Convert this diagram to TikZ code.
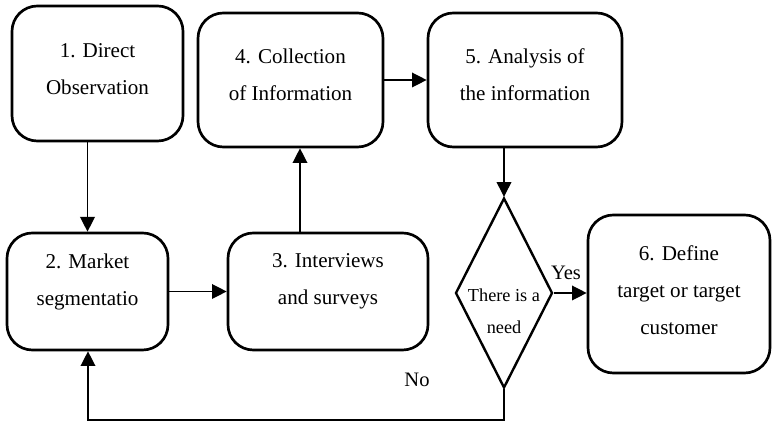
\documentclass[tikz,border=0pt]{standalone}
\usepackage{fontspec}
\setmainfont{Liberation Serif}
\usetikzlibrary{shapes.geometric,arrows.meta}
\tikzset{
  box/.style={draw, line width=2pt, rounded corners=19pt, inner sep=0pt},
  boxtext/.style={align=center, font=\fontsize{15.8}{27.75}\selectfont},
  dtext/.style={align=center, font=\fontsize{13.7}{24}\selectfont},
  lbl/.style={font=\fontsize{15.4}{18}\selectfont},
  conn/.style={line width=1pt},
  arr/.style={line width=1pt, -{Triangle[length=11pt,width=11pt]}},
}
\begin{document}
\begin{tikzpicture}[x=0.75pt,y=-0.75pt]
\useasboundingbox (0,0) rectangle (772,423);
% boxes
\node[box, minimum width=128.25pt, minimum height=101.25pt,
  label={[boxtext, yshift=3.4pt]center:1. Direct\\Observation}] (b1) at (97.5,73.5) {};
\node[box, minimum width=120.75pt, minimum height=87.75pt,
  label={[boxtext, yshift=7.5pt]center:2. Market\\segmentatio}] (b2) at (87.5,291.5) {};
\node[box, minimum width=150pt, minimum height=87.75pt,
  label={[boxtext, yshift=7.5pt]center:3. Interviews\\and surveys}] (b3) at (328,291.5) {};
\node[box, minimum width=138.75pt, minimum height=100.5pt,
  label={[boxtext, yshift=3.8pt]center:4. Collection\\of Information}] (b4) at (290.5,80) {};
\node[box, minimum width=145.5pt, minimum height=100.5pt,
  label={[boxtext, yshift=3.8pt]center:5. Analysis of\\the information}] (b5) at (525,80) {};
\node[box, minimum width=136.5pt, minimum height=118.5pt,
  label={[boxtext, yshift=3pt]center:6. Define\\target or target\\customer}] (b6) at (679,294) {};
% decision
\node[draw, shape=diamond, line width=1.8pt, inner sep=0pt,
  minimum width=72.75pt, minimum height=142.5pt,
  label={[dtext, yshift=-13.5pt]center:There is a\\need}] (d) at (504,293) {};
% labels
\node[lbl] (yes) at (566,273) {Yes};
\node[lbl] (no) at (417,380) {No};
\coordinate (lo) at (88,420);
% connectors
\draw[arr] (b1.south -| b2.north) -- (b2.north);
\draw[arr] (b2.east) -- (b3.west);
\draw[arr] ([xshift=-21pt]b3.north) -- ([xshift=-21pt]b3.north |- b4.south);
\draw[arr] (b4.east) -- (b4.east -| b5.west);
\draw[arr] (b5.south -| d.north) -- (d.north);
\draw[arr] (d.east) -- (d.east -| b6.west);
\draw[arr] (d.south) -- (d.south |- lo) -- (lo) -- (lo |- b2.south);
\end{tikzpicture}
\end{document}
